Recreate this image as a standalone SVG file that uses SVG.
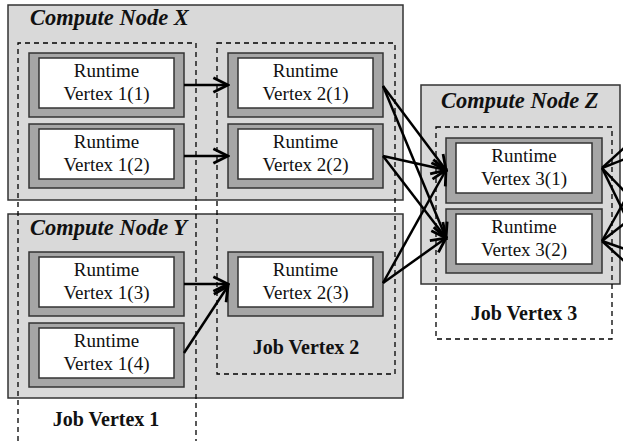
<svg xmlns="http://www.w3.org/2000/svg" width="623" height="441" viewBox="0 0 623 441">
<defs>
<style>
.cn{fill:#d9d9d9;stroke:#333;stroke-width:1.5}
.jv{fill:none;stroke:#000;stroke-width:1.3;stroke-dasharray:5,4}
.out{fill:#a6a6a6;stroke:#333;stroke-width:1.5}
.in{fill:#fff;stroke:#333;stroke-width:1.5}
.t{font-family:"Liberation Serif","Times New Roman",serif;font-size:19px;fill:#111;text-anchor:middle}
.cnt{font-family:"Liberation Serif","Times New Roman",serif;font-size:22.5px;font-weight:bold;font-style:italic;fill:#111}
.jvt{font-family:"Liberation Serif","Times New Roman",serif;font-size:20px;font-weight:bold;fill:#111;text-anchor:middle}
.c{stroke:#000;stroke-width:2.5;fill:none}
</style>
<marker id="arr" markerUnits="userSpaceOnUse" markerWidth="18" markerHeight="18" viewBox="0 0 16 16" refX="14" refY="8" orient="auto">
<path d="M1,1.5 L14,8 L1,14.5" fill="none" stroke="#000" stroke-width="2.5"/>
</marker>
</defs>
<rect width="623" height="441" fill="#fff"/>

<g id="compute-node-x">
<rect class="cn" x="8" y="5" width="395" height="195"/>
<text class="cnt" x="30" y="25">Compute Node X</text>
</g>
<g id="compute-node-y">
<rect class="cn" x="8" y="214" width="395" height="184"/>
<text class="cnt" x="30" y="235">Compute Node Y</text>
</g>
<g id="compute-node-z">
<rect class="cn" x="421" y="85" width="199" height="199"/>
<text class="cnt" x="441" y="108">Compute Node Z</text>
</g>

<g id="job-vertex-1">
<path class="jv" d="M18,450 V43 H196 V450"/>
<text class="jvt" x="106" y="426">Job Vertex 1</text>
</g>
<g id="job-vertex-2">
<rect class="jv" x="217" y="43" width="178" height="331"/>
<text class="jvt" x="306" y="354">Job Vertex 2</text>
</g>
<g id="job-vertex-3">
<rect class="jv" x="436" y="127" width="176" height="212"/>
<text class="jvt" x="524" y="320">Job Vertex 3</text>
</g>

<g id="rv-1-1">
<rect class="out" x="29" y="53" width="155" height="64"/>
<rect class="in" x="39" y="58" width="135" height="50"/>
<text class="t" x="106.5" y="77">Runtime</text>
<text class="t" x="106.5" y="100">Vertex 1(1)</text>
</g>
<g id="rv-1-2">
<rect class="out" x="29" y="124" width="155" height="64"/>
<rect class="in" x="39" y="129" width="135" height="50"/>
<text class="t" x="106.5" y="148">Runtime</text>
<text class="t" x="106.5" y="171">Vertex 1(2)</text>
</g>
<g id="rv-2-1">
<rect class="out" x="228" y="53" width="155" height="64"/>
<rect class="in" x="238" y="58" width="135" height="50"/>
<text class="t" x="305.5" y="77">Runtime</text>
<text class="t" x="305.5" y="100">Vertex 2(1)</text>
</g>
<g id="rv-2-2">
<rect class="out" x="228" y="124" width="155" height="64"/>
<rect class="in" x="238" y="129" width="135" height="50"/>
<text class="t" x="305.5" y="148">Runtime</text>
<text class="t" x="305.5" y="171">Vertex 2(2)</text>
</g>
<g id="rv-1-3">
<rect class="out" x="29" y="252" width="155" height="64"/>
<rect class="in" x="39" y="257" width="135" height="50"/>
<text class="t" x="106.5" y="276">Runtime</text>
<text class="t" x="106.5" y="299">Vertex 1(3)</text>
</g>
<g id="rv-1-4">
<rect class="out" x="29" y="323" width="155" height="64"/>
<rect class="in" x="39" y="328" width="135" height="50"/>
<text class="t" x="106.5" y="347">Runtime</text>
<text class="t" x="106.5" y="370">Vertex 1(4)</text>
</g>
<g id="rv-2-3">
<rect class="out" x="228" y="252" width="155" height="64"/>
<rect class="in" x="238" y="257" width="135" height="50"/>
<text class="t" x="305.5" y="276">Runtime</text>
<text class="t" x="305.5" y="299">Vertex 2(3)</text>
</g>
<g id="rv-3-1">
<rect class="out" x="446" y="138" width="156" height="65"/>
<rect class="in" x="456" y="143" width="136" height="50"/>
<text class="t" x="524" y="162">Runtime</text>
<text class="t" x="524" y="185">Vertex 3(1)</text>
</g>
<g id="rv-3-2">
<rect class="out" x="446" y="209" width="156" height="64"/>
<rect class="in" x="456" y="214" width="136" height="50"/>
<text class="t" x="524" y="233">Runtime</text>
<text class="t" x="524" y="256">Vertex 3(2)</text>
</g>

<g id="connectors">
<line class="c" x1="184" y1="85" x2="228" y2="85" marker-end="url(#arr)"/>
<line class="c" x1="184" y1="156" x2="228" y2="156" marker-end="url(#arr)"/>
<line class="c" x1="184" y1="284" x2="228" y2="284" marker-end="url(#arr)"/>
<line class="c" x1="184" y1="353" x2="228" y2="286" marker-end="url(#arr)"/>
<line class="c" x1="383" y1="86" x2="446" y2="170" marker-end="url(#arr)"/>
<line class="c" x1="383" y1="86" x2="446" y2="238" marker-end="url(#arr)"/>
<line class="c" x1="383" y1="156" x2="446" y2="170" marker-end="url(#arr)"/>
<line class="c" x1="383" y1="156" x2="446" y2="238" marker-end="url(#arr)"/>
<line class="c" x1="383" y1="283" x2="446" y2="170" marker-end="url(#arr)"/>
<line class="c" x1="383" y1="283" x2="446" y2="238" marker-end="url(#arr)"/>
<line class="c" x1="602" y1="168" x2="625" y2="147"/>
<line class="c" x1="602" y1="168" x2="625" y2="159"/>
<line class="c" x1="602" y1="168" x2="625" y2="192"/>
<line class="c" x1="602" y1="168" x2="625" y2="215"/>
<line class="c" x1="602" y1="241" x2="625" y2="200"/>
<line class="c" x1="602" y1="241" x2="625" y2="223"/>
<line class="c" x1="602" y1="241" x2="625" y2="249"/>
<line class="c" x1="602" y1="241" x2="625" y2="262"/>
</g>
</svg>
